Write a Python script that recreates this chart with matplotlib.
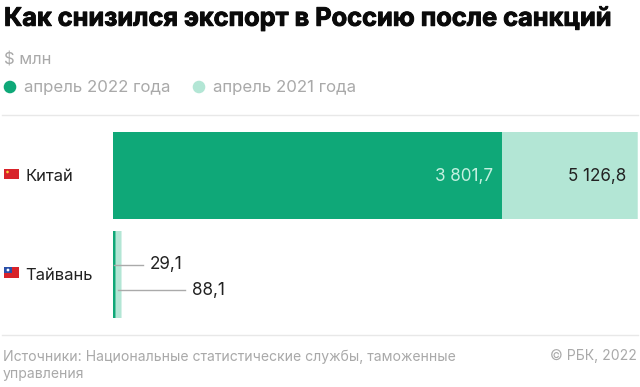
import matplotlib
matplotlib.use('Agg')
import matplotlib.pyplot as plt
import matplotlib.patheffects as pe
from matplotlib.patches import Rectangle, Circle

plt.rcParams['font.family'] = ['Inter', 'Roboto', 'DejaVu Sans']

countries = ['Китай', 'Тайвань']
april_2022 = [3801.7, 29.1]
april_2021 = [5126.8, 88.1]
labels_2022 = ['3 801,7', '29,1']
labels_2021 = ['5 126,8', '88,1']

GREEN = '#0fa878'
LIGHT = '#b3e6d5'
GREY = '#a9a9a9'
DARK = '#222222'

W, H = 640, 387
fig = plt.figure(figsize=(W / 100, H / 100), dpi=100, facecolor='white')

# calque en pixels pour le texte et le décor
bg = fig.add_axes([0, 0, 1, 1])
bg.set_xlim(0, W)
bg.set_ylim(H, 0)
bg.axis('off')

title = bg.text(4, 18.5, 'Как снизился экспорт в Россию после санкций', fontsize=18.25,
                fontweight='bold', color='#0a0a0a', va='center', ha='left')
title.set_path_effects([pe.withStroke(linewidth=0.7, foreground='#0a0a0a')])
bg.text(4, 59.5, '$ млн', fontsize=12, color=GREY, va='center')

bg.add_patch(Circle((10, 87), 6.3, color=GREEN, lw=0))
bg.text(24, 87.5, 'апрель 2022 года', fontsize=12.1, color=GREY, va='center')
bg.add_patch(Circle((199, 87), 6.3, color=LIGHT, lw=0))
bg.text(213, 87.5, 'апрель 2021 года', fontsize=12.1, color=GREY, va='center')

bg.plot([2, 638], [115, 115], color='#e8e8e8', lw=1)
bg.plot([2, 638], [335, 335], color='#e8e8e8', lw=1)

bg.text(3, 365, 'Источники: Национальные статистические службы, таможенные\nуправления',
        fontsize=10.1, color=GREY, va='center', linespacing=1.25)
bg.text(637, 356, '© РБК, 2022', fontsize=10.1, color=GREY, va='center', ha='right')

# petits drapeaux
bg.add_patch(Rectangle((4, 168.5), 15, 10.5, color='#d8232a', lw=0))
bg.add_patch(Circle((7.5, 172), 1.3, color='#f5d33c', lw=0))
bg.add_patch(Rectangle((4, 267), 15, 11, color='#d8232a', lw=0))
bg.add_patch(Rectangle((4, 267), 8, 6, color='#2a4fa8', lw=0))
bg.add_patch(Circle((8, 270), 1.4, color='white', lw=0))

# les barres
ax = fig.add_axes([112.5 / W, 1 - 325 / H, (W - 112.5) / W, (325 - 125) / H])
ax.set_xlim(0, (W - 112.5) / 0.10245)
ax.set_ylim(325, 125)
ax.axis('off')
ax.patch.set_alpha(0)

y_pos = [175.5, 274.5]
ax.barh(y_pos, april_2021, height=87, color=LIGHT, lw=0, snap=False)
ax.barh(y_pos, april_2022, height=87, color=GREEN, lw=0, snap=False)

ax.text(april_2022[0] - 85, y_pos[0] + 1, labels_2022[0], color='#c4f0e0', fontsize=12.3,
        ha='right', va='center')
ax.text(april_2021[0] - 115, y_pos[0] + 1, labels_2021[0], color=DARK, fontsize=12.3,
        ha='right', va='center')

# valeurs de Taïwan avec leurs traits
ax.plot([april_2022[1] / 2, 300], [264.5, 264.5], color='#aaaaaa', lw=1, zorder=3)
ax.plot([april_2021[1] - 35, 710], [289.5, 289.5], color='#aaaaaa', lw=1, zorder=3)
ax.text(365, 265, labels_2022[1], color=DARK, fontsize=12.3, va='center')
ax.text(780, 290, labels_2021[1], color=DARK, fontsize=12.3, va='center')

for name, y in zip(countries, y_pos):
    bg.text(25.5, y + 1, name, color=DARK, fontsize=12, va='center')

fig.savefig('out.png', dpi=100)
